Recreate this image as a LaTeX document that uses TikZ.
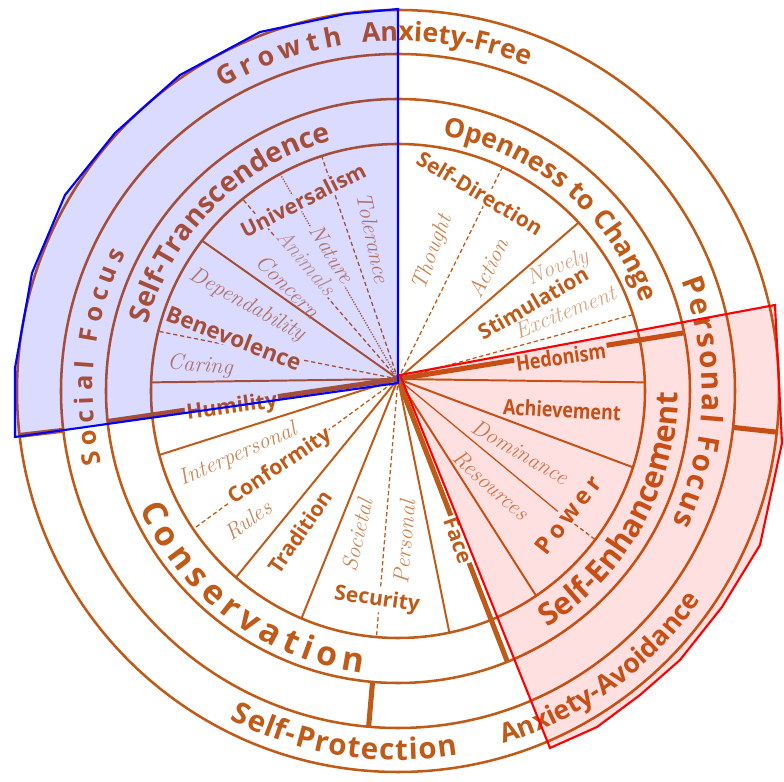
\documentclass[tikz,border=0pt]{standalone}
\usepackage{fontspec}
\usepackage{tikz}
\usetikzlibrary{decorations.text, calc}
\newfontfamily\labfont{Open Sans}
\newfontfamily\widefont{Open Sans}[LetterSpace=18]
\newcommand{\letterpad}[2]{\kern#1#2\kern#1}
\definecolor{cBrown}{RGB}{192,90,24}
\definecolor{cSoft}{RGB}{206,132,82}
\definecolor{cPale}{RGB}{214,162,126}
\tikzset{
	ring/.style     ={draw=cBrown, line width=1.8pt},
	spoke/.style    ={draw=cBrown, line width=1.4pt},
	subline/.style  ={draw=cBrown, line width=0.9pt, dash pattern=on 3pt off 2pt},
	divider/.style  ={draw=cBrown, line width=3.6pt},
	valname/.style  ={font=\labfont\bfseries\fontsize{15}{15}\selectfont, text=cBrown, inner sep=1pt},
	subname/.style  ={font=\itshape\fontsize{16}{16}\selectfont, text=cSoft, inner sep=1pt},
	gap/.style      ={fill=white},
	arctext/.style  ={decorate, decoration={text along path, text align=center, text color=cBrown}},
	% overlays
	socialzone/.style ={draw=blue, line width=1.5pt, fill=blue, fill opacity=0.14},
	personalzone/.style={draw=red, line width=1.5pt, fill=red, fill opacity=0.12},
}
% #1 font, #2 radius, #3 start angle, #4 end angle, #5 text
\newcommand{\ringlabel}[5]{%
	\path[arctext, decoration={text={|#1|#5}}] (#3:#2) arc[start angle=#3, end angle=#4, radius=#2];}

\begin{document}
\begin{tikzpicture}[x=0.025cm, y=0.025cm]
	\useasboundingbox[fill=white] (-398,-391) rectangle (386,391);
	\coordinate (C) at (0,0);
	\coordinate (O) at (0,12);
	\foreach \r in {247,292,337,381} \draw[ring] (C) circle[radius=\r];
	% value borders
	\draw[spoke] (O) -- (90:337);
	\foreach \a in {43,2,-18,-56,-78,-113,-131,-165,178,142.5} \draw[spoke] (O) -- (\a:247);
	\foreach \a in {65,18,-95,-146,166,129,108} \draw[subline] (O) -- (\a:247);
	\draw[spoke, line width=0.9pt, densely dotted] (O) -- (118.5:247);
	\draw[spoke, line width=0.9pt] (O) -- (-37:200);
	\draw[subline] (-37:200) -- (-37:247);
	% borderline values and outer dividers
	\foreach \a in {11.5,-68,186} \draw[divider] (O) -- (\a:292);
	\draw[divider] (-95:292) -- (-95:337);
	\draw[divider] (186.7:337) -- (186.7:381);
	\draw[divider] (-6.2:337) -- (-6.2:381);

	\node[valname, gap, rotate=27] (univ) at (-95,191) {Universalism};
	\node[subname, rotate=-78] (tole) at (-25,153) {Tolerance};
	\node[subname, gap, rotate=-58] (natu) at (-66,137) {Nature};
	\node[subname, gap, text=cPale, rotate=-50] (anim) at (-91,129) {Animals};
	\node[subname, rotate=-45] (conc) at (-110,105) {Concern};
	\node[subname, rotate=-29] (depe) at (-151,86) {Dependability};
	\node[valname, gap, rotate=-21, font=\labfont\bfseries\fontsize{16}{16}\selectfont] (bene) at (-164,53) {Benevolence};
	\node[subname, rotate=-5] (cari) at (-198,25) {Caring};
	\node[valname, gap, rotate=8] (humi) at (-166,-17) {Humility};
	\node[subname, rotate=24] (inte) at (-160,-64) {Interpersonal};
	\node[valname, gap, rotate=34] (conf) at (-118,-76) {Conformity};
	\node[subname, rotate=35] (rule) at (-150,-129) {Rules};
	\node[valname, rotate=55] (trad) at (-98,-141) {Tradition};
	\node[subname, rotate=77] (soci) at (-41,-144) {Societal};
	\node[subname, rotate=85] (pers) at (6,-151) {Personal};
	\node[valname, gap, rotate=-8] (secu) at (-21,-209) {Security};
	\node[valname, gap, rotate=-70] (face) at (60,-149) {Face};
	\node[subname, rotate=-42] (reso) at (93,-94) {Resources};
	\node[subname, rotate=-30] (domi) at (122,-61) {Dominance};
	\node[valname, gap, rotate=52, font=\widefont\bfseries\fontsize{17}{17}\selectfont] (powe) at (170,-124) {Power};
	\node[valname, rotate=-3] (achi) at (164,-19) {\scalebox{0.85}[1]{Achievement}};
	\node[valname, gap, rotate=8] (hedo) at (163,34) {\scalebox{0.85}[1]{Hedonism}};
	\node[subname, text=cPale, rotate=22] (exci) at (167,79) {Excitement};
	\node[valname, rotate=30] (stim) at (135,88) {Stimulation};
	\node[subname, text=cPale, rotate=22] (nove) at (160,123) {Novely};
	\node[subname, rotate=62] (acti) at (90,123) {Action};
	\node[subname, rotate=70] (thou) at (35,138) {Thought};
	\node[valname, gap, rotate=-31] (sdir) at (82,198) {Self-Direction};

	\ringlabel{\labfont\bfseries\fontsize{20}{20}\selectfont}{259}{195}{75}{Self-Transcendence}
	\ringlabel{\labfont\bfseries\fontsize{19}{19}\selectfont}{259}{110}{-10}{Openness to Change}
	\ringlabel{\labfont\bfseries\fontsize{22}{22}\selectfont}{280}{-89}{31}{Self-Enhancement}
	\ringlabel{\labfont\bfseries\fontsize{24}{24}\selectfont\letterpad{2.1pt}}{284}{173}{293}{Conservation}
	\ringlabel{\labfont\bfseries\fontsize{18}{18}\selectfont\letterpad{2.1pt}}{305}{234}{114}{Social{~}Focus}
	\ringlabel{\labfont\bfseries\fontsize{21}{21}\selectfont\letterpad{0.8pt}}{304}{58}{-62}{Personal{~}Focus}
	\ringlabel{\labfont\bfseries\fontsize{19}{19}\selectfont\letterpad{2pt}}{350}{170}{50}{Growth}
	\ringlabel{\labfont\bfseries\fontsize{19}{19}\selectfont}{350}{142}{22}{Anxiety-Free}
	\ringlabel{\labfont\bfseries\fontsize{19}{19}\selectfont}{368}{-114}{6}{Anxiety-Avoidance}
	\ringlabel{\labfont\bfseries\fontsize{21}{21}\selectfont\letterpad{0.4pt}}{369}{201}{321}{Self-Protection}

	\path[socialzone] (0,8) -- (-383,-46) -- (-383,23) -- (-366,118) -- (-333,196) -- (-283,258) -- (-218,316) -- (-138,359) -- (-53,377) -- (0,382) -- cycle;
	\path[personalzone] (2,16) -- (377,86) -- (384,-52) -- (362,-154) -- (324,-216) -- (282,-269) -- (242,-304) -- (199,-336) -- (152,-357) -- cycle;
\end{tikzpicture}
\end{document}
